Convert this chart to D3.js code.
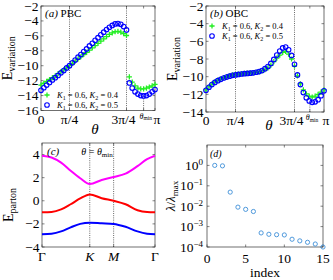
<!DOCTYPE html>
<html>
<head>
<meta charset="utf-8">
<script src="https://cdn.jsdelivr.net/npm/d3@7"></script>
<style>
  body { margin: 0; background: #fff; }
  svg { display: block; }
  svg text { font-family: "Liberation Serif", "DejaVu Serif", serif; }
</style>
</head>
<body>
<svg id="fig" width="333" height="280" font-family="Liberation Serif"></svg>
<script>
/*
Data
*/

// theta grid index 0..40, step pi/40
const thetaIndex = d3.range(41);

// (a) PBC
const pbcK04 = [-12.6, -12.35, -12.1, -11.85, -11.6, -11.35, -11.05, -10.8, -10.55, -10.3,
  -10.0, -9.7, -9.4, -9.1, -8.8, -8.5, -8.2, -7.9, -7.6, -7.3,
  -7.0, -6.7, -6.4, -6.1, -5.8, -5.6, -5.45, -5.4, -5.5, -5.7,
  -5.95, -11.5, -12.2, -12.7, -13.0, -13.1, -13.1, -13.0, -12.85, -12.7, -12.5];
const pbcK05 = [-13.3, -12.95, -12.6, -12.25, -11.9, -11.6, -11.3, -10.95, -10.65, -10.3,
  -10.0, -9.6, -9.25, -8.85, -8.5, -8.1, -7.75, -7.35, -7.0, -6.6,
  -6.25, -5.85, -5.5, -5.15, -4.85, -4.6, -4.4, -4.35, -4.45, -4.75,
  -5.2, -12.3, -13.0, -13.5, -13.8, -14.0, -14.05, -14.0, -13.8, -13.5, -13.2];

// (b) OBC
const obcK04 = [-11.5, -11.15, -10.85, -10.6, -10.4, -10.25, -10.1, -10.0, -9.9, -9.8,
  -9.75, -9.7, -9.65, -9.62, -9.6, -9.57, -9.54, -9.5, -9.45, -9.35,
  -9.2, -9.0, -8.7, -8.3, -7.9, -7.55, -7.25, -7.15, -7.45, -8.0,
  -8.8, -9.9, -10.8, -11.5, -11.95, -12.2, -12.3, -12.2, -12.0, -11.75, -11.5];
const obcK05 = [-11.55, -11.2, -10.9, -10.65, -10.45, -10.3, -10.15, -10.05, -9.95, -9.85,
  -9.8, -9.75, -9.7, -9.66, -9.63, -9.6, -9.56, -9.5, -9.42, -9.3,
  -9.1, -8.85, -8.5, -8.05, -7.55, -7.1, -6.75, -6.65, -6.95, -7.6,
  -8.6, -9.8, -10.9, -11.8, -12.4, -12.75, -12.9, -12.85, -12.6, -12.15, -11.6];

const thetaMinA = 0.9;   // in units of pi
const thetaMinB = 0.88;

// (c) parton bands along Gamma-K-M-Gamma (path length units)
const kPoints = [0, 1, 1.5, 2.366];
const kLabels = ["Γ", "K", "M", "Γ"];
const kSamples = [0, 0.2, 0.4, 0.6, 0.8, 1.0, 1.25, 1.5, 1.75, 2.0, 2.2, 2.366];
const bandTop = [3.9, 3.75, 3.3, 2.6, 1.95, 1.45, 1.8, 2.05, 2.35, 3.0, 3.6, 3.9];
const bandMid = [-1.0, -0.97, -0.75, -0.3, 0.2, 0.55, 0.22, 0.0, -0.3, -0.82, -0.98, -1.0];
const bandLow = [-2.9, -2.85, -2.65, -2.3, -2.0, -1.9, -1.95, -2.0, -2.25, -2.65, -2.85, -2.9];

// (d) eigenvalue spectrum
const eigIndex = d3.range(1, 16);
const eigRatio = [1.0, 0.95, 0.049, 0.009, 0.007, 0.0055, 0.00049, 0.00042, 0.0004, 0.00039,
  0.00024, 0.0002, 0.00017, 0.00014, 0.0001];

/*
Helpers
*/

const svg = d3.select("#fig");
const axisColor = "#333";
const tickLen = 2.5;
const tickFont = 13.5;

function frame(g, x, y, xTicks, yTicks) {
  const [x0, x1] = x.range();
  const [y0, y1] = y.range();
  g.append("rect")
    .attr("x", x0).attr("y", y1)
    .attr("width", x1 - x0).attr("height", y0 - y1)
    .attr("fill", "none").attr("stroke", axisColor).attr("stroke-width", 0.7);
  const t = g.append("g").attr("stroke", axisColor).attr("stroke-width", 0.6);
  xTicks.forEach(v => {
    const px = x(v);
    t.append("line").attr("x1", px).attr("x2", px).attr("y1", y0).attr("y2", y0 - tickLen);
    t.append("line").attr("x1", px).attr("x2", px).attr("y1", y1).attr("y2", y1 + tickLen);
  });
  yTicks.forEach(v => {
    const py = y(v);
    t.append("line").attr("x1", x0).attr("x2", x0 + tickLen).attr("y1", py).attr("y2", py);
    t.append("line").attr("x1", x1).attr("x2", x1 - tickLen).attr("y1", py).attr("y2", py);
  });
}

function yTickLabels(g, x, y, ticks) {
  g.append("g").selectAll("text").data(ticks).enter().append("text")
    .attr("x", x.range()[0] - 2.5).attr("y", d => y(d) + 4.5)
    .attr("text-anchor", "end").attr("font-size", tickFont)
    .text(d => d < 0 ? "−" + Math.abs(d) : d);
}

function vDotted(g, px, ya, yb) {
  g.append("line").attr("x1", px).attr("x2", px).attr("y1", ya).attr("y2", yb)
    .attr("stroke", "#444").attr("stroke-width", 0.8).attr("stroke-dasharray", "1,1.2");
}

function ylabel(g, px, py, main, sub) {
  const t = g.append("text").attr("transform", `translate(${px},${py}) rotate(-90)`)
    .attr("text-anchor", "middle").attr("font-size", 14);
  t.append("tspan").text(main);
  t.append("tspan").attr("font-size", 10).attr("dy", 3).text(sub);
  return t;
}

function plus(g, data, x, y, color) {
  g.append("g").selectAll("path").data(data).enter().append("path")
    .attr("transform", d => `translate(${x(d[0])},${y(d[1])})`)
    .attr("d", "M-2.6,0H2.6M0,-2.6V2.6")
    .attr("stroke", color).attr("stroke-width", 1.3).attr("fill", "none");
}

function rings(g, data, x, y, color, r, w) {
  g.append("g").selectAll("circle").data(data).enter().append("circle")
    .attr("cx", d => x(d[0])).attr("cy", d => y(d[1])).attr("r", r)
    .attr("stroke", color).attr("stroke-width", w).attr("fill", "none");
}

function kLegend(g, px, py, k2) {
  const t = g.append("text").attr("x", px).attr("y", py).attr("font-size", 8.5);
  t.append("tspan").attr("font-style", "italic").text("K");
  t.append("tspan").attr("font-size", 6).attr("dy", 1.5).text("1");
  t.append("tspan").attr("dy", -1.5).text(" = 0.6, ");
  t.append("tspan").attr("font-style", "italic").text("K");
  t.append("tspan").attr("font-size", 6).attr("dy", 1.5).text("2");
  t.append("tspan").attr("dy", -1.5).text(" = " + k2);
}

const green = "#22ee22";
const blue = "#0000ff";

/*
Theta panels (a) and (b)
*/

function thetaPanel(cfg) {
  const g = svg.append("g");
  const x = d3.scaleLinear().domain([0, 40]).range([cfg.left, cfg.right]);
  const y = d3.scaleLinear().domain(cfg.ydom).range([cfg.bottom, cfg.top]);
  const xt = [0, 10, 30, cfg.thetaMin * 40, 40];
  const yt = d3.range(cfg.ydom[0], cfg.ydom[1] + 1, 2);

  vDotted(g, x(10), cfg.bottom, cfg.top);
  vDotted(g, x(30), cfg.bottom, cfg.top);
  vDotted(g, x(cfg.thetaMin * 40), cfg.bottom, y(cfg.minLine));

  frame(g, x, y, xt, yt);
  yTickLabels(g, x, y, yt);

  const ty = cfg.bottom + 13;
  const lab = g.append("g").attr("font-size", tickFont).attr("text-anchor", "middle");
  lab.append("text").attr("x", x(0)).attr("y", ty).text("0");
  lab.append("text").attr("x", x(10)).attr("y", ty).text("π/4");
  lab.append("text").attr("x", x(30) - 3).attr("y", ty).text("3π/4");
  lab.append("text").attr("x", x(40) + 2).attr("y", ty).text("π");
  const tm = lab.append("text").attr("x", x(cfg.thetaMin * 40) - 4).attr("y", ty - 5)
    .attr("font-size", 8).attr("text-anchor", "start");
  tm.append("tspan").attr("font-style", "italic").text("θ");
  tm.append("tspan").attr("font-size", 5.5).attr("dy", 1.5).text("min");

  g.append("text").attr("x", cfg.thetaX).attr("y", cfg.thetaY)
    .attr("font-size", 15).attr("font-style", "italic").attr("text-anchor", "middle").text("θ");

  ylabel(g, cfg.left - 29, (cfg.top + cfg.bottom) / 2, "E", "variation");

  plus(g, thetaIndex.map(i => [i, cfg.s1[i]]), x, y, green);
  rings(g, thetaIndex.map(i => [i, cfg.s2[i]]), x, y, blue, 2.3, 1.1);

  const title = g.append("text").attr("x", cfg.left + 4).attr("y", cfg.top + 11).attr("font-size", 11);
  title.append("tspan").attr("font-style", "italic").text("(" + cfg.tag + ")");
  title.append("tspan").text(" " + cfg.name);

  // legend
  const lx = d3.scaleLinear().range([cfg.legX, cfg.legX]);
  plus(g, [[0, 0]], lx, d3.scaleLinear().range([cfg.legY, cfg.legY]), green);
  rings(g, [[0, 0]], lx, d3.scaleLinear().range([cfg.legY + 10, cfg.legY + 10]), blue, 2.3, 1.1);
  kLegend(g, cfg.legX + 10, cfg.legY + 3, "0.4");
  kLegend(g, cfg.legX + 10, cfg.legY + 13, "0.5");
}

thetaPanel({
  tag: "a", name: "PBC", left: 41, right: 155, top: 6, bottom: 110.5,
  ydom: [-16, -2], s1: pbcK04, s2: pbcK05, thetaMin: thetaMinA, minLine: -14,
  thetaX: 95, thetaY: 134, legX: 47, legY: 95
});

thetaPanel({
  tag: "b", name: "OBC", left: 206, right: 324, top: 6, bottom: 112,
  ydom: [-14, -2], s1: obcK04, s2: obcK05, thetaMin: thetaMinB, minLine: -12.9,
  thetaX: 269, thetaY: 130, legX: 212, legY: 26
});

/*
Band panel (c)
*/

(function () {
  const g = svg.append("g");
  const x = d3.scaleLinear().domain([0, kPoints[3]]).range([42, 155]);
  const y = d3.scaleLinear().domain([-4, 5]).range([247, 143]);
  const yt = [-4, -2, 0, 2, 4];

  vDotted(g, x(kPoints[1]), 247, 143);
  vDotted(g, x(kPoints[2]), 247, 143);
  frame(g, x, y, kPoints, yt);
  yTickLabels(g, x, y, yt);

  g.append("g").selectAll("text").data(kPoints).enter().append("text")
    .attr("x", d => x(d)).attr("y", 261).attr("text-anchor", "middle").attr("font-size", tickFont)
    .attr("font-style", (d, i) => (i === 1 || i === 2) ? "italic" : "normal")
    .text((d, i) => kLabels[i]);

  const line = d3.line().x(d => x(d[0])).y(d => y(d[1])).curve(d3.curveMonotoneX);
  [[bandTop, "#ff00ff"], [bandMid, "#ff0000"], [bandLow, "#0000ff"]].forEach(([b, c]) => {
    g.append("path").attr("d", line(kSamples.map((k, i) => [k, b[i]])))
      .attr("fill", "none").attr("stroke", c).attr("stroke-width", 2);
  });

  g.append("text").attr("x", 47).attr("y", 155).attr("font-size", 11).attr("font-style", "italic").text("(c)");
  const tt = g.append("text").attr("x", 97).attr("y", 155).attr("font-size", 10).attr("text-anchor", "middle");
  tt.append("tspan").attr("font-style", "italic").text("θ");
  tt.append("tspan").text(" = ");
  tt.append("tspan").attr("font-style", "italic").text("θ");
  tt.append("tspan").attr("font-size", 7).attr("dy", 2).text("min");

  ylabel(g, 13, 205, "E", "parton");
})();

/*
Eigenvalue panel (d)
*/

(function () {
  const g = svg.append("g");
  const x = d3.scaleLinear().domain([0, 15]).range([207, 323]);
  const y = d3.scaleLog().domain([1e-4, 10]).range([247, 145]);
  const yt = [1e-4, 1e-3, 1e-2, 1e-1, 1];
  const xt = [0, 5, 10, 15];

  frame(g, x, y, xt, yt);

  g.append("g").selectAll("text").data(xt).enter().append("text")
    .attr("x", d => x(d)).attr("y", 263).attr("text-anchor", "middle").attr("font-size", tickFont)
    .text(d => d);

  const yl = g.append("g").selectAll("text").data(yt).enter().append("text")
    .attr("x", 203).attr("y", d => y(d) + 4.5).attr("text-anchor", "end").attr("font-size", tickFont);
  yl.append("tspan").text("10");
  yl.append("tspan").attr("font-size", 9).attr("dy", -5)
    .text(d => { const e = Math.round(Math.log10(d)); return e < 0 ? "−" + Math.abs(e) : e; });

  rings(g, eigIndex.map((k, i) => [k, eigRatio[i]]), x, y, "#3d8fd8", 2.1, 0.9);

  g.append("text").attr("x", 210).attr("y", 157).attr("font-size", 10).attr("font-style", "italic").text("(d)");
  g.append("text").attr("x", 265).attr("y", 277).attr("font-size", tickFont).attr("text-anchor", "middle").text("index");

  const t = g.append("text").attr("transform", "translate(175,196) rotate(-90)")
    .attr("text-anchor", "middle").attr("font-size", 13);
  t.append("tspan").attr("font-style", "italic").text("λ");
  t.append("tspan").text("/");
  t.append("tspan").attr("font-style", "italic").text("λ");
  t.append("tspan").attr("font-size", 9).attr("dy", 3).text("max");
})();
</script>
</body>
</html>
